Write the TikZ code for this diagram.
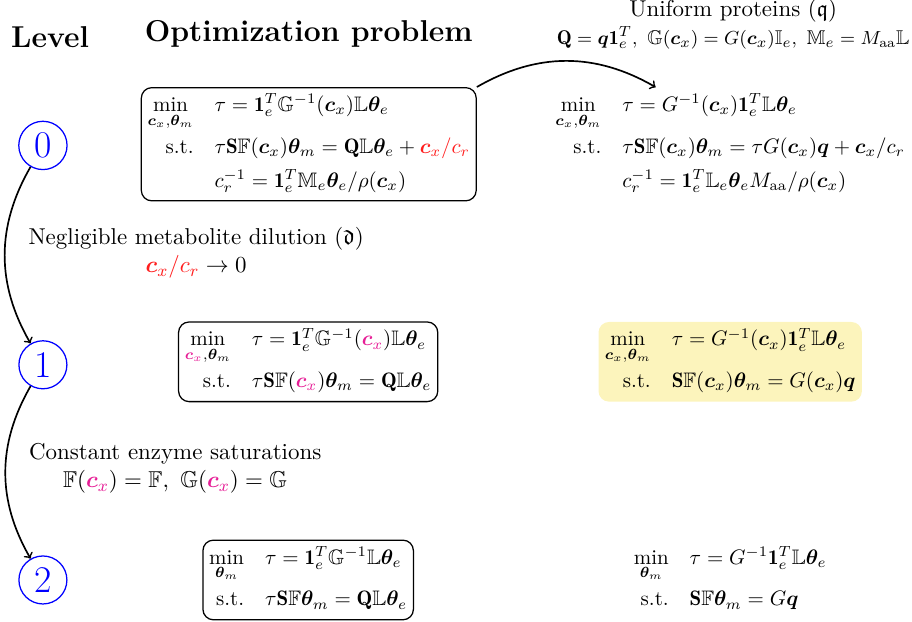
\documentclass[tikz,border=0pt]{standalone}
\usepackage{amsmath,amssymb,bm}
\usepackage{fontspec}
\usetikzlibrary{positioning}
\definecolor{dilred}{RGB}{255,30,30}
\definecolor{satpink}{RGB}{230,30,150}
\definecolor{uniyellow}{RGB}{252,244,188}
\newcommand{\cx}{\bm{c}_x}
\newcommand{\thm}{\bm{\theta}_m}
\newcommand{\thetae}{\bm{\theta}_e}
\newcommand{\onee}{\mathbf{1}_e^T}
\begin{document}
\begin{tikzpicture}[x=1cm, y=1cm,
    level/.style={circle, draw=blue, text=blue, semithick, inner sep=3pt, font=\fontsize{18}{20}\selectfont},
    problem/.style={draw, rounded corners=5pt, line width=0.6pt, inner sep=3pt},
    uniform/.style={fill=uniyellow, rounded corners=5pt, inner sep=3pt},
    plain/.style={inner sep=3pt},
    heading/.style={font=\Large\bfseries},
    relax/.style={align=center, font=\fontsize{10.95}{13.6}\selectfont},
    flow/.style={->, thick}]
  \useasboundingbox (0,0) rectangle (15.30,10.43);

  % column headings
  \node[heading] (hlevel) at (0.84,9.81) {Level};
  \node[heading] (hprob) at (5.18,9.86) {Optimization problem};
  \node[relax] (huni) at (12.3,10.02) {Uniform proteins ($\mathfrak{q}$)\\[0pt]
    \fontsize{9.5}{11.5}\selectfont $\mathbf{Q} = \bm{q}\onee,\ \mathbb{G}(\cx) = G(\cx)\mathbb{I}_e,\ \mathbb{M}_e = M_{\mathrm{aa}}\mathbb{L}$};

  % levels
  \node[level] (l0) at (0.72,7.99) {0};
  \node[level] (l1) at (0.72,4.31) {1};
  \node[level] (l2) at (0.72,0.70) {2};

  % level 0
  \node[problem] (p0) at (5.18,8.01) {$\begin{array}{@{}r@{\quad}l@{}}
      \min\limits_{\cx,\thm} & \tau = \onee\mathbb{G}^{-1}(\cx)\mathbb{L}\thetae \\[8pt]
      \text{s.t.} & \tau\mathbf{S}\mathbb{F}(\cx)\thm = \mathbf{Q}\mathbb{L}\thetae + \textcolor{dilred}{\cx/c_r} \\[4pt]
      & c_r^{-1} = \onee\mathbb{M}_e\thetae/\rho(\cx)
    \end{array}$};
  \node[plain] (q0) at (12.25,8.01) {$\begin{array}{@{}r@{\quad}l@{}}
      \min\limits_{\cx,\thm} & \tau = G^{-1}(\cx)\onee\mathbb{L}\thetae \\[8pt]
      \text{s.t.} & \tau\mathbf{S}\mathbb{F}(\cx)\thm = \tau G(\cx)\bm{q} + \cx/c_r \\[4pt]
      & c_r^{-1} = \onee\mathbb{L}_e\thetae M_{\mathrm{aa}}/\rho(\cx)
    \end{array}$};

  % level 1
  \node[relax] (r01) at (3.29,6.19) {Negligible metabolite dilution ($\mathfrak{d}$)\\
    $\textcolor{dilred}{\cx/c_r} \to 0$};
  \node[problem] (p1) at (5.17,4.36) {$\begin{array}{@{}r@{\quad}l@{}}
      \min\limits_{\textcolor{satpink}{\cx},\thm} & \tau = \onee\mathbb{G}^{-1}(\textcolor{satpink}{\cx})\mathbb{L}\thetae \\[8pt]
      \text{s.t.} & \tau\mathbf{S}\mathbb{F}(\textcolor{satpink}{\cx})\thm = \mathbf{Q}\mathbb{L}\thetae
    \end{array}$};
  \node[uniform] (q1) at (12.25,4.36) {$\begin{array}{@{}r@{\quad}l@{}}
      \min\limits_{\cx,\thm} & \tau = G^{-1}(\cx)\onee\mathbb{L}\thetae \\[8pt]
      \text{s.t.} & \mathbf{S}\mathbb{F}(\cx)\thm = G(\cx)\bm{q}
    \end{array}$};

  % level 2
  \node[relax] (r12) at (2.94,2.57) {Constant enzyme saturations\\
    $\mathbb{F}(\textcolor{satpink}{\cx}) = \mathbb{F},\ \mathbb{G}(\textcolor{satpink}{\cx}) = \mathbb{G}$};
  \node[problem] (p2) at (5.17,0.70) {$\begin{array}{@{}r@{\quad}l@{}}
      \min\limits_{\thm} & \tau = \onee\mathbb{G}^{-1}\mathbb{L}\thetae \\[8pt]
      \text{s.t.} & \tau\mathbf{S}\mathbb{F}\thm = \mathbf{Q}\mathbb{L}\thetae
    \end{array}$};
  \node[plain] (q2) at (12.25,0.70) {$\begin{array}{@{}r@{\quad}l@{}}
      \min\limits_{\thm} & \tau = G^{-1}\onee\mathbb{L}\thetae \\[8pt]
      \text{s.t.} & \mathbf{S}\mathbb{F}\thm = G\bm{q}
    \end{array}$};

  % arrows
  \draw[flow] (l0) to[out=240, in=120] (l1);
  \draw[flow] (l1) to[out=240, in=120] (l2);
  \draw[flow] (p0.north east) to[bend left=30] ([xshift=-1.25cm]q0.north);
\end{tikzpicture}
\end{document}
